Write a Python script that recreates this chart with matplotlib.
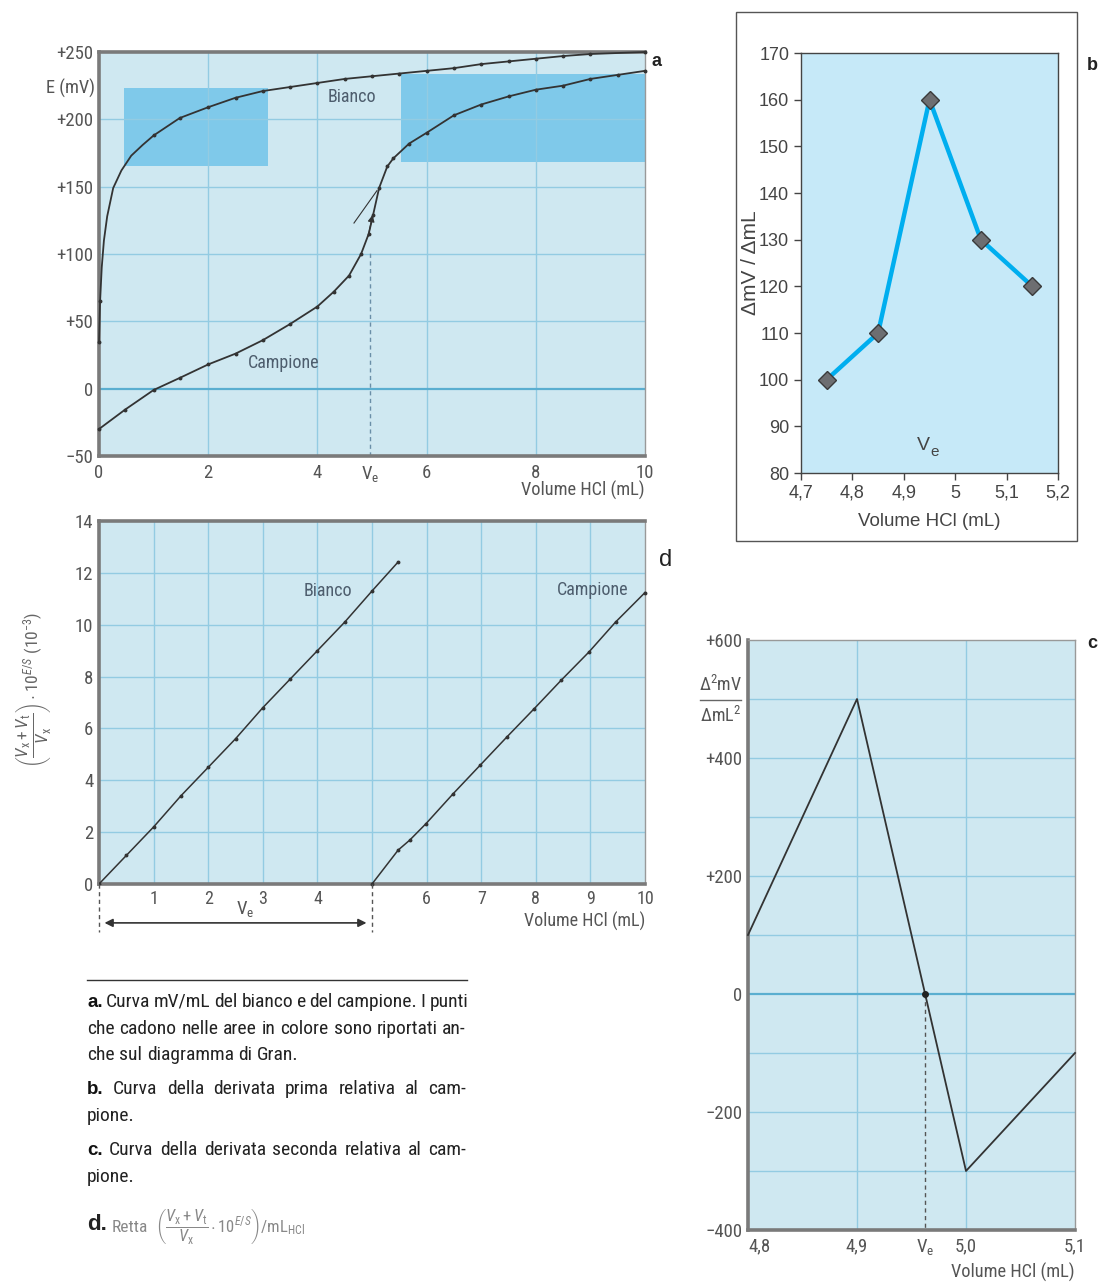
import matplotlib
matplotlib.use("Agg")
import matplotlib.pyplot as plt
import matplotlib.font_manager as fm
from matplotlib.patches import Rectangle
from matplotlib.lines import Line2D

# ---------------- data ----------------
# panel a : E (mV) vs volume HCl (mL)
a_bianco_x = [0, 0.02, 0.05, 0.09, 0.15, 0.26, 0.41, 0.59, 0.8, 1.0, 1.48, 2.0, 2.5, 3.0,
              3.5, 4.0, 4.5, 5.0, 5.5, 6.0, 6.5, 7.0, 7.5, 8.0, 8.5, 9.0, 10.0]
a_bianco_y = [35, 65, 90, 110, 128, 149, 162, 173, 181, 188, 201, 209, 216, 221,
              224, 227, 230, 232, 234, 236, 238, 241, 243, 245, 247, 248.5, 250]
a_camp_x = [0, 0.48, 1.0, 1.48, 2.0, 2.5, 3.0, 3.5, 4.0, 4.3, 4.58, 4.8, 4.94, 5.02,
            5.13, 5.28, 5.39, 5.68, 6.0, 6.5, 7.0, 7.5, 8.0, 8.5, 9.0, 9.5, 10.0]
a_camp_y = [-30, -15.5, -1, 8, 18, 26, 36, 48, 61, 72, 84, 100, 115, 129,
            149, 165, 171, 182, 190, 203, 211, 217, 222, 225, 230, 233, 236]
a_rects = [(0.45, 3.1, 165, 223), (5.53, 10.0, 168, 234)]  # (x0, x1, y0, y1)
a_ve = 4.96
a_xticks = [0, 2, 4, a_ve, 6, 8, 10]
a_xlabels = ["0", "2", "4", r"V$_{\rm e}$", "6", "8", "10"]
a_yticks = [250, 200, 150, 100, 50, 0, -50]
a_ylabels = ["+250", "+200", "+150", "+100", "+50", "0", "\u221250"]

# panel b : first derivative
b_x = [4.75, 4.85, 4.95, 5.05, 5.15]
b_y = [100, 110, 160, 130, 120]
b_xticks = [4.7, 4.8, 4.9, 5.0, 5.1, 5.2]
b_xlabels = ["4,7", "4,8", "4,9", "5", "5,1", "5,2"]
b_yticks = [80, 90, 100, 110, 120, 130, 140, 150, 160, 170]

# panel c : second derivative
c_x = [4.8, 4.9, 5.0, 5.1]
c_y = [100, 500, -300, -100]
c_ve = 4.9625
c_xticks = [4.8, 4.9, c_ve, 5.0, 5.1]
c_xlabels = ["4,8", "4,9", r"V$_{\rm e}$", "5,0", "5,1"]
c_yticks = [600, 400, 200, 0, -200, -400]
c_ylabels = ["+600", "+400", "+200", "0", "\u2212200", "\u2212400"]

# panel d : Gran plot
d_bianco_x = [0, 0.5, 1.0, 1.5, 2.0, 2.5, 3.0, 3.5, 4.0, 4.5, 5.0, 5.47]
d_bianco_y = [0, 1.1, 2.2, 3.4, 4.5, 5.6, 6.8, 7.9, 9.0, 10.1, 11.3, 12.4]
d_camp_x = [5.0, 5.48, 5.69, 5.99, 6.49, 6.98, 7.47, 7.97, 8.47, 8.97, 9.46, 10.0]
d_camp_y = [0, 1.31, 1.69, 2.33, 3.49, 4.58, 5.67, 6.76, 7.87, 8.94, 10.1, 11.24]
d_ve_label = 2.67
d_xticks = [1, 2, 3, 4, 6, 7, 8, 9, 10]
d_yticks = [0, 2, 4, 6, 8, 10, 12, 14]

# ---------------- fonts ----------------
names = {f.name for f in fm.fontManager.ttflist}
cond = None
for cand in ["Roboto Condensed", "Liberation Sans Narrow", "Open Sans Condensed",
             "Noto Sans Condensed", "Liberation Sans"]:
    if cand in names:
        cond = cand
        break
if cond is None:
    cond = "DejaVu Sans"
arial = "Liberation Sans" if "Liberation Sans" in names else "DejaVu Sans"
COND = [cond, "DejaVu Sans"]
ARIAL = [arial, "DejaVu Sans"]
plt.rcParams["font.family"] = COND
plt.rcParams["mathtext.fontset"] = "custom"
plt.rcParams["mathtext.rm"] = cond
plt.rcParams["mathtext.it"] = cond + ":italic"
plt.rcParams["mathtext.bf"] = cond + ":bold"

W, H = 1099, 1282
fig = plt.figure(figsize=(W / 100, H / 100), dpi=100)
fig.patch.set_facecolor("white")


def fx(x):
    return x / W


def fy(y):
    return 1 - y / H


def axes_px(x0, y0, x1, y1):
    return fig.add_axes([fx(x0), fy(y1), (x1 - x0) / W, (y1 - y0) / H])


BG = "#cfe8f1"
GRID = "#93cbe2"
ZERO = "#5aaed0"
SPINE = "#7a7a7a"
TXT = "#555555"
LINE = "#333333"
TICKFS = 13.5


def style_sketch(ax, thick=("left", "top", "bottom"), thin=("right",)):
    ax.set_facecolor(BG)
    for s in thick:
        ax.spines[s].set_color(SPINE)
        ax.spines[s].set_linewidth(2.6)
    for s in thin:
        ax.spines[s].set_color("#999999")
        ax.spines[s].set_linewidth(1.0)
    ax.tick_params(length=0, colors=TXT, labelsize=TICKFS)
    ax.set_axisbelow(True)


def half_marks(xs):
    return [i for i, x in enumerate(xs) if abs(x * 2 - round(x * 2)) < 0.05]


# ---------------- panel a ----------------
axa = axes_px(99, 52, 645, 456)
style_sketch(axa)
axa.set_xlim(0, 10)
axa.set_ylim(-50, 250)
for gx in [2, 4, 6, 8]:
    axa.axvline(gx, color=GRID, lw=1.0, zorder=0.5)
for gy in [50, 100, 150, 200]:
    axa.axhline(gy, color=GRID, lw=1.0, zorder=0.5)
axa.axhline(0, color=ZERO, lw=1.6, zorder=0.6)
for (x0, x1, y0, y1) in a_rects:
    axa.add_patch(Rectangle((x0, y0), x1 - x0, y1 - y0, facecolor="#7fc9ea",
                            edgecolor="none", zorder=0.4))
axa.plot(a_bianco_x, a_bianco_y, color=LINE, lw=1.3, marker="o", ms=1.8, zorder=3,
         clip_on=False, markevery=half_marks(a_bianco_x))
axa.plot(a_camp_x, a_camp_y, color=LINE, lw=1.3, marker="o", ms=1.8, zorder=3,
         clip_on=False)
# tangent and arrow near the equivalence point
axa.plot([4.67, 5.09], [123, 147], color=LINE, lw=0.8, zorder=3)
axa.annotate("", xy=(5.02, 131), xytext=(4.92, 111),
             arrowprops=dict(arrowstyle="-|>", color=LINE, lw=0.8, mutation_scale=10))
axa.plot([a_ve, a_ve], [-50, 102], color="#6a8fa8", lw=1.0, ls=(0, (3, 2.5)), zorder=2)
axa.set_xticks(a_xticks)
axa.set_xticklabels(a_xlabels)
axa.set_yticks(a_yticks)
axa.set_yticklabels(a_ylabels)
axa.tick_params(axis="x", pad=6)
axa.tick_params(axis="y", pad=4)
axa.text((352 - 99) / 54.6, 216.5, "Bianco", ha="center", va="center",
         color="#4d5d6d", fontsize=13)
axa.text((284 - 99) / 54.6, 19, "Campione", ha="center", va="center",
         color="#4d5d6d", fontsize=13)
axa.text(1.0, -0.085, "Volume HCl (mL)", transform=axa.transAxes, ha="right",
         va="center", color=TXT, fontsize=13.2)
axa.text(-0.008, 223, "E (mV)", transform=axa.get_yaxis_transform(), ha="right",
         va="center", color=TXT, fontsize=13.2)
fig.text(fx(657), fy(62), "a", ha="center", va="center", fontsize=13,
         fontweight="bold", color="#222222", family=ARIAL)

# ---------------- panel d ----------------
axd = axes_px(99, 521, 645, 884)
style_sketch(axd)
axd.set_xlim(0, 10)
axd.set_ylim(0, 14)
for gx in range(1, 10):
    axd.axvline(gx, color=GRID, lw=1.0, zorder=0.5)
for gy in [2, 4, 6, 8, 10, 12]:
    axd.axhline(gy, color=GRID, lw=1.0, zorder=0.5)
axd.plot(d_bianco_x, d_bianco_y, color=LINE, lw=1.1, marker="o", ms=1.8, zorder=3)
axd.plot(d_camp_x, d_camp_y, color=LINE, lw=1.1, marker="o", ms=1.8, zorder=3,
         clip_on=False)
axd.set_xticks(d_xticks)
axd.set_yticks(d_yticks)
axd.set_yticklabels([str(v) for v in d_yticks])
axd.tick_params(axis="x", pad=4, labelsize=13)
axd.tick_params(axis="y", pad=4)
axd.text(d_ve_label, -0.95, r"V$_{\rm e}$", ha="center", va="center", color=TXT,
         fontsize=13.5)
for vx in [0, 5]:
    axd.plot([vx, vx], [0, -1.85], color="#555555", lw=1.0, ls=(0, (3, 2.5)),
             clip_on=False, zorder=3)
axd.annotate("", xy=(0.05, -1.5), xytext=(4.95, -1.5), annotation_clip=False,
             arrowprops=dict(arrowstyle="<|-|>", color="#333333", lw=1.2,
                             mutation_scale=12))
axd.text((328 - 99) / 54.6, 11.3, "Bianco", ha="center", va="center",
         color="#4d5d6d", fontsize=13)
axd.text((593 - 99) / 54.6, 11.35, "Campione", ha="center", va="center",
         color="#4d5d6d", fontsize=13)
axd.text(1.0, -0.104, "Volume HCl (mL)", transform=axd.transAxes, ha="right",
         va="center", color=TXT, fontsize=13)
fig.text(fx(34), fy(690),
         r"$\left(\dfrac{V_{\rm x}+V_{\rm t}}{V_{\rm x}}\right)\cdot 10^{E/S}\ (10^{-3})$",
         rotation=90, ha="center", va="center", color="#666666", fontsize=12.5)
fig.text(fx(666), fy(560), "d", ha="center", va="center", fontsize=17,
         color="#222222", family=ARIAL)

# ---------------- panel c ----------------
axc = axes_px(748, 640, 1075, 1230)
style_sketch(axc, thick=("left", "bottom"), thin=("right", "top"))
axc.set_xlim(4.8, 5.1)
axc.set_ylim(-400, 600)
for gx in [4.9, 5.0]:
    axc.axvline(gx, color=GRID, lw=1.0, zorder=0.5)
for gy in [500, 400, 300, 200, 100, -100, -200, -300]:
    axc.axhline(gy, color=GRID, lw=1.0, zorder=0.5)
axc.axhline(0, color=ZERO, lw=1.6, zorder=0.6)
axc.plot(c_x, c_y, color=LINE, lw=1.3, zorder=3, clip_on=False)
axc.plot([c_ve], [0], "o", color="#222222", ms=4, zorder=4)
axc.plot([c_ve, c_ve], [0, -400], color="#555555", lw=1.0, ls=(0, (3, 2.5)), zorder=2)
axc.set_xticks(c_xticks)
axc.set_xticklabels(c_xlabels)
axc.set_yticks(c_yticks)
axc.set_yticklabels(c_ylabels)
axc.tick_params(axis="x", pad=5)
axc.tick_params(axis="y", pad=4)
lbls = axc.get_xticklabels()
lbls[0].set_horizontalalignment("left")
axc.text(1.0, -0.072, "Volume HCl (mL)", transform=axc.transAxes, ha="right",
         va="center", color=TXT, fontsize=13.2)
fig.text(fx(721), fy(685), r"$\Delta^{2}$mV", ha="center", va="center",
         color=TXT, fontsize=13)
fig.add_artist(Line2D([fx(700), fx(741)], [fy(700), fy(700)], color="#666666", lw=1.0))
fig.text(fx(721), fy(716), r"$\Delta$mL$^{2}$", ha="center", va="center",
         color=TXT, fontsize=13)
fig.text(fx(1092), fy(643), "c", ha="center", va="center", fontsize=13,
         fontweight="bold", color="#222222", family=ARIAL)

# ---------------- panel b ----------------
fig.add_artist(Rectangle((fx(736), fy(541)), (1077 - 736) / W, (541 - 12) / H,
                         transform=fig.transFigure, facecolor="white",
                         edgecolor="#555555", lw=1.0, zorder=0))
axb = axes_px(801, 53, 1058, 473)
axb.set_facecolor("#c6e9f8")
axb.set_xlim(4.7, 5.2)
axb.set_ylim(80, 170)
for s in axb.spines.values():
    s.set_color("#444444")
    s.set_linewidth(1.0)
axb.plot(b_x, b_y, color="#00aeef", lw=3.2, zorder=3)
axb.plot(b_x, b_y, ls="none", marker="D", ms=9, mfc="#6d6e71", mec="#3a3a3a",
         mew=1.0, zorder=4)
axb.set_xticks(b_xticks)
axb.set_xticklabels(b_xlabels)
axb.set_yticks(b_yticks)
axb.tick_params(direction="out", length=5, width=1, colors="#444444",
                labelcolor="#444444", labelsize=13)
for t in axb.get_xticklabels() + axb.get_yticklabels():
    t.set_family(ARIAL)
axb.set_xlabel("Volume HCl (mL)", family=ARIAL, fontsize=13.5, color="#444444",
               labelpad=8)
axb.set_ylabel("\u0394mV / \u0394mL", family=ARIAL, fontsize=15, color="#444444",
               labelpad=-1)
axb.text(4.95, 86, "V", ha="right", va="center", family=ARIAL, fontsize=14,
         color="#444444")
axb.text(4.952, 84.5, "e", ha="left", va="center", family=ARIAL, fontsize=11,
         color="#444444")
fig.text(fx(1092), fy(65), "b", ha="center", va="center", fontsize=13,
         fontweight="bold", color="#222222", family=ARIAL)

# ---------------- caption ----------------
fig.add_artist(Line2D([fx(87), fx(467)], [fy(980), fy(980)], color="#333333", lw=1.0))
renderer = fig.canvas.get_renderer()
CFS = 14


def line_words(tokens, y, x0=87, x1=466, justify=True):
    arts = []
    for word, bold in tokens:
        if bold:
            t = fig.text(0, fy(y + 6), word, ha="left", va="baseline", fontsize=CFS - 0.5,
                         fontweight="bold", color="#111111", family=ARIAL)
        else:
            t = fig.text(0, fy(y + 6), word, ha="left", va="baseline", fontsize=CFS,
                         color="#222222")
        arts.append(t)
    widths = [a.get_window_extent(renderer).width for a in arts]
    tsp = fig.text(0, 0, "x x", fontsize=CFS)
    txx = fig.text(0, 0, "xx", fontsize=CFS)
    sp = tsp.get_window_extent(renderer).width - txx.get_window_extent(renderer).width
    tsp.remove()
    txx.remove()
    if justify and len(arts) > 1:
        gap = max((x1 - x0 - sum(widths)) / (len(arts) - 1), sp * 0.8)
    else:
        gap = sp
    x = x0
    for a, w in zip(arts, widths):
        a.set_x(fx(x))
        x += w + gap


def tok(s, first_bold=None):
    out = []
    if first_bold:
        out.append((first_bold, True))
    out += [(w, False) for w in s.split()]
    return out


line_words(tok("Curva mV/mL del bianco e del campione. I punti", "a."), 1001)
line_words(tok("che cadono nelle aree in colore sono riportati an-"), 1028)
line_words(tok("che sul diagramma di Gran."), 1054, justify=False)
line_words(tok("Curva della derivata prima relativa al cam-", "b."), 1088)
line_words(tok("pione."), 1115, justify=False)
line_words(tok("Curva della derivata seconda relativa al cam-", "c."), 1149)
line_words(tok("pione."), 1176, justify=False)

fig.text(fx(87), fy(1224), "d.", ha="left", va="center", fontsize=16,
         fontweight="bold", color="#222222", family=ARIAL)
fig.text(fx(112), fy(1228), "Retta", ha="left", va="center", fontsize=12.5,
         color="#888888")
fig.text(fx(155), fy(1227),
         r"$\left(\dfrac{V_{\rm x}+V_{\rm t}}{V_{\rm x}}\cdot 10^{E/S}\right)$/mL$_{\rm HCl}$",
         ha="left", va="center", fontsize=12, color="#888888")

fig.savefig("out.png", dpi=100, facecolor="white")
